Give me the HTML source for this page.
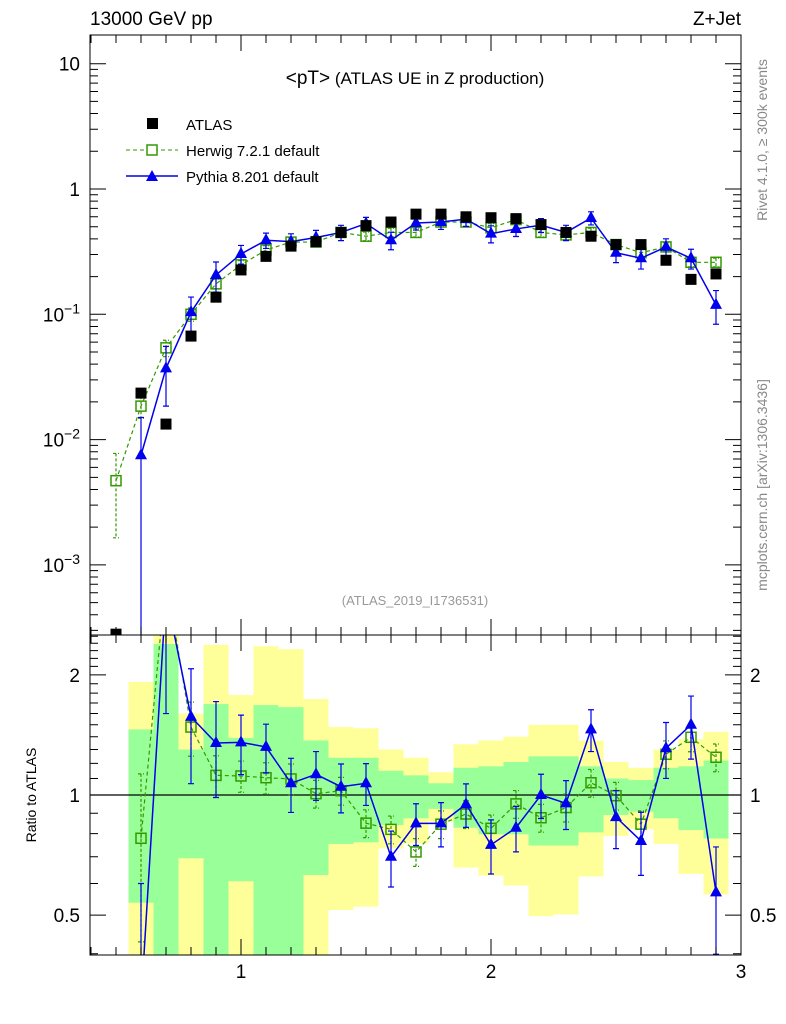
<!DOCTYPE html>
<html><head><meta charset="utf-8"><style>
html,body{margin:0;padding:0;background:#fff;width:786px;height:1024px;overflow:hidden;}
svg{display:block;font-family:"Liberation Sans",sans-serif;}
</style></head><body>
<svg id="c" width="786" height="1024" viewBox="0 0 786 1024">
<defs>
<clipPath id="cm"><rect x="90" y="35" width="651" height="600"/></clipPath>
<clipPath id="cr"><rect x="90" y="635" width="651" height="320"/></clipPath>
</defs>
<g id="bands" clip-path="url(#cr)"></g>
<g id="marks"></g>
<rect x="90" y="35" width="651" height="600" fill="none" stroke="#000" stroke-width="1"/>
<rect x="90" y="635" width="651" height="320" fill="none" stroke="#000" stroke-width="1"/>
<g id="ticks"></g>
<text x="90" y="25" font-size="19">13000 GeV pp</text>
<text x="741" y="25" font-size="19" text-anchor="end">Z+Jet</text>
<text x="415" y="84" font-size="17" text-anchor="middle"><tspan font-size="19">&lt;pT&gt;</tspan> (ATLAS UE in Z production)</text>
<text x="415" y="605" font-size="13" fill="#999" text-anchor="middle">(ATLAS_2019_I1736531)</text>
<text transform="translate(767,140) rotate(-90)" font-size="14" fill="#888" text-anchor="middle">Rivet 4.1.0, ≥ 300k events</text>
<text transform="translate(767,485) rotate(-90)" font-size="14" fill="#888" text-anchor="middle">mcplots.cern.ch [arXiv:1306.3436]</text>
<text transform="translate(36,795) rotate(-90)" font-size="14" text-anchor="middle">Ratio to ATLAS</text>
<g>
<rect x="147" y="118" width="11" height="11" fill="#000"/>
<text x="186" y="130" font-size="15">ATLAS</text>
<line x1="126" y1="150" x2="178" y2="150" stroke="#339900" stroke-dasharray="4,3"/>
<rect x="147" y="145" width="10" height="10" fill="#fff" stroke="#339900" stroke-width="1.5"/>
<text x="186" y="156" font-size="15">Herwig 7.2.1 default</text>
<line x1="126" y1="176" x2="178" y2="176" stroke="#0000ee" stroke-width="1.5"/>
<polygon points="152,170 158,181 146,181" fill="#0000ee"/>
<text x="186" y="182" font-size="15">Pythia 8.201 default</text>
</g>
</svg>
<script>
const xs=[0.5,0.6,0.7,0.8,0.9,1.0,1.1,1.2,1.3,1.4,1.5,1.6,1.7,1.8,1.9,2.0,2.1,2.2,2.3,2.4,2.5,2.6,2.7,2.8,2.9];
const atlas=[0.00028,0.0235,0.0133,0.067,0.137,0.226,0.29,0.35,0.38,0.45,0.51,0.545,0.63,0.63,0.6,0.59,0.58,0.52,0.45,0.42,0.36,0.36,0.27,0.19,0.21];
const herwig=[0.0047,0.0185,0.054,0.1,0.175,0.248,0.326,0.377,0.377,0.45,0.42,0.45,0.45,0.545,0.545,0.49,0.57,0.45,0.43,0.45,0.36,0.31,0.345,0.26,0.26];
const herwigErr=[0.65,0.2,0.15,0.12,0.09,0.08,0.08,0.08,0.08,0.08,0.08,0.08,0.08,0.08,0.08,0.08,0.08,0.08,0.08,0.08,0.08,0.08,0.08,0.08,0.08];
const pythia=[null,0.0075,0.037,0.104,0.206,0.303,0.39,0.38,0.41,0.45,0.53,0.39,0.535,0.545,0.575,0.44,0.48,0.515,0.45,0.587,0.31,0.28,0.345,0.28,0.119];
const pythiaErr=[0,1.0,0.5,0.32,0.27,0.17,0.14,0.155,0.14,0.14,0.12,0.16,0.12,0.127,0.125,0.155,0.13,0.127,0.14,0.12,0.166,0.18,0.16,0.18,0.3];
const herwigRatio=[null,0.779,3.5,1.48,1.12,1.116,1.105,1.097,1.0075,1.025,0.85,0.82,0.72,0.845,0.896,0.825,0.95,0.877,0.93,1.073,0.996,0.845,1.265,1.395,1.243];
const herwigRatioErr=[0,0.45,0.2,0.155,0.12,0.09,0.09,0.09,0.08,0.08,0.08,0.08,0.08,0.08,0.08,0.08,0.08,0.08,0.08,0.08,0.08,0.08,0.08,0.08,0.08];
const pythiaRatio=[null,0.3,3.2,1.57,1.35,1.355,1.32,1.07,1.127,1.049,1.07,0.70,0.849,0.849,0.948,0.75,0.828,1.0,0.953,1.46,0.88,0.767,1.31,1.50,0.57];
const bandYHi=[null,1.92,3,1.60,2.38,1.78,2.36,2.32,1.74,1.48,1.47,1.30,1.24,1.14,1.34,1.37,1.40,1.50,1.50,1.37,1.21,1.17,1.30,1.38,1.44];
const bandGHi=[null,1.46,2.39,1.30,1.69,1.39,1.68,1.66,1.37,1.24,1.24,1.15,1.12,1.07,1.17,1.18,1.21,1.25,1.25,1.18,1.10,1.09,1.17,1.18,1.22];
const bandGLo=[null,0.537,0.3,0.694,0.3,0.608,0.3,0.3,0.630,0.754,0.761,0.841,0.874,0.923,0.828,0.797,0.797,0.747,0.747,0.806,0.891,0.908,0.874,0.817,0.778];
const bandYLo=[null,0.3,0.3,0.3,0.3,0.3,0.3,0.3,0.3,0.515,0.525,0.735,0.757,0.857,0.658,0.628,0.593,0.497,0.502,0.625,0.789,0.822,0.754,0.634,0.563];
const mainTicks=[0.001,0.01,0.1,1,10];
const mainTickLabels=["10^-3","10^-2","10^-1","1","10"];
const ratioTicks=[0.5,1,2];
const xTicks=[1,2,3];

const NS="http://www.w3.org/2000/svg";
const X=v=>241+250*(v-1);
const clampY=(y,t,b)=>Math.max(t,Math.min(b,y));
const YMraw=v=>189-125.3*Math.log10(v);
const YRraw=v=>795-399*Math.log10(v);
const mainPanel={Y:YMraw,top:33,bot:637};
const ratioPanel={Y:YRraw,top:633,bot:957};
const marks=document.getElementById('marks');
const bands=document.getElementById('bands');
const ticks=document.getElementById('ticks');
function mk(tag,attrs,parent){const e=document.createElementNS(NS,tag);for(const k in attrs)e.setAttribute(k,attrs[k]);parent.appendChild(e);return e;}
const YRc=v=>clampY(YRraw(v),633,957);

for(let i=0;i<xs.length;i++){
  if(bandYHi[i]==null)continue;
  const x0=X(xs[i]-0.05),w=25;
  let r=mk('rect',{x:x0,y:YRc(bandYHi[i]),width:w,height:YRc(bandYLo[i])-YRc(bandYHi[i]),fill:'#ffff99'},bands);
  
  
  r=mk('rect',{x:x0,y:YRc(bandGHi[i]),width:w,height:YRc(bandGLo[i])-YRc(bandGHi[i]),fill:'#99ff99'},bands);
  
  
}
let ref=mk('line',{x1:90,y1:YRraw(1),x2:741,y2:YRraw(1),stroke:'#000','stroke-width':1.3},marks);



const gm=mk('g',{'clip-path':'url(#cm)'},marks);
const gr=mk('g',{'clip-path':'url(#cr)'},marks);

function series(g,vals,errs,P,color,dash,kind,name){
  const Y=P.Y;
  let pts=[];
  for(let i=0;i<xs.length;i++){if(vals[i]!=null)pts.push(X(xs[i])+','+Y(vals[i]));}
  const pl=mk('polyline',{points:pts.join(' '),fill:'none',stroke:color,'stroke-width':kind=='tri'?1.5:1.2},g);
  if(dash)pl.setAttribute('stroke-dasharray','4,3');
  
  
  for(let i=0;i<xs.length;i++){
    const v=vals[i]; if(v==null)continue;
    const x=X(xs[i]),y=Y(v);
    if(errs&&errs[i]>0){
      const lo=Math.max(v*(1-errs[i]),1e-6),hi=v*(1+errs[i]);
      const yh=clampY(Y(hi),P.top,P.bot),yl=clampY(Y(lo),P.top,P.bot);
      const e=mk('path',{d:`M${x},${yh}V${yl}M${x-3},${yh}h6M${x-3},${yl}h6`,stroke:color,'stroke-width':1.2,fill:'none'},g);
      if(dash)e.setAttribute('stroke-dasharray','3,2');
      
      
    }
    if(y<P.top-5||y>P.bot+5)continue;
    let m;
    if(kind=='tri')m=mk('polygon',{points:`${x},${y-7} ${x+6},${y+4} ${x-6},${y+4}`,fill:color},g);
    else m=mk('rect',{x:x-5,y:y-5,width:10,height:10,fill:'none',stroke:color,'stroke-width':1.5},g);
    
    
  }
}
series(gm,herwig,herwigErr,mainPanel,'#339900',true,'sq','herwig');
series(gm,pythia,pythiaErr,mainPanel,'#0000ee',false,'tri','pythia');
for(let i=0;i<xs.length;i++){
  const m=mk('rect',{x:X(xs[i])-5.5,y:YMraw(atlas[i])-5.5,width:11,height:11,fill:'#000'},gm);
  
  
}
series(gr,herwigRatio,herwigRatioErr,ratioPanel,'#339900',true,'sq','herwig-ratio');
series(gr,pythiaRatio,pythiaErr,ratioPanel,'#0000ee',false,'tri','pythia-ratio');

let d='';
for(let e=-4;e<=1;e++){for(let k=1;k<10;k++){const v=k*Math.pow(10,e);const y=YMraw(v);if(y<35||y>635)continue;const L=k==1?16:8;d+=`M90,${y}h${L}M741,${y}h${-L}`;}}
for(let v=0.4;v<=2.55;v+=0.1){const y=YRraw(v);if(y<635||y>955)continue;const L=(Math.abs(v-1)<1e-6||Math.abs(v-2)<1e-6||Math.abs(v-0.5)<1e-6)?16:8;d+=`M90,${y}h${L}M741,${y}h${-L}`;}
for(let i=4;i<=30;i++){const v=i/10;const x=X(v);const L=(i%10==0)?16:8;d+=`M${x},635v${-L}M${x},35v${L}M${x},955v${-L}M${x},635v${L}`;}
const tp=mk('path',{d:d,stroke:'#000','stroke-width':1,fill:'none'},ticks);



for(let i=0;i<mainTicks.length;i++){
  const y=YMraw(mainTicks[i]);const lab=mainTickLabels[i];
  const t=mk('text',{x:80,y:y+7,'font-size':19,'text-anchor':'end'},ticks);
  if(lab.indexOf('^')>=0){const [b,ex]=lab.split('^');t.textContent=b;const s=mk('tspan',{dy:-8,'font-size':14},t);s.textContent=ex.replace('-','−');}
  else t.textContent=lab;
  
  
}
for(let i=0;i<ratioTicks.length;i++){
  const y=YRraw(ratioTicks[i]);
  let t=mk('text',{x:80,y:y+7,'font-size':19,'text-anchor':'end'},ticks);t.textContent=String(ratioTicks[i]);
  
  
  t=mk('text',{x:750,y:y+7,'font-size':19},ticks);t.textContent=String(ratioTicks[i]);
  
  
}
for(let i=0;i<xTicks.length;i++){
  const t=mk('text',{x:X(xTicks[i]),y:978,'font-size':19,'text-anchor':'middle'},ticks);t.textContent=String(xTicks[i]);
  
  
}
</script>
</body></html>
